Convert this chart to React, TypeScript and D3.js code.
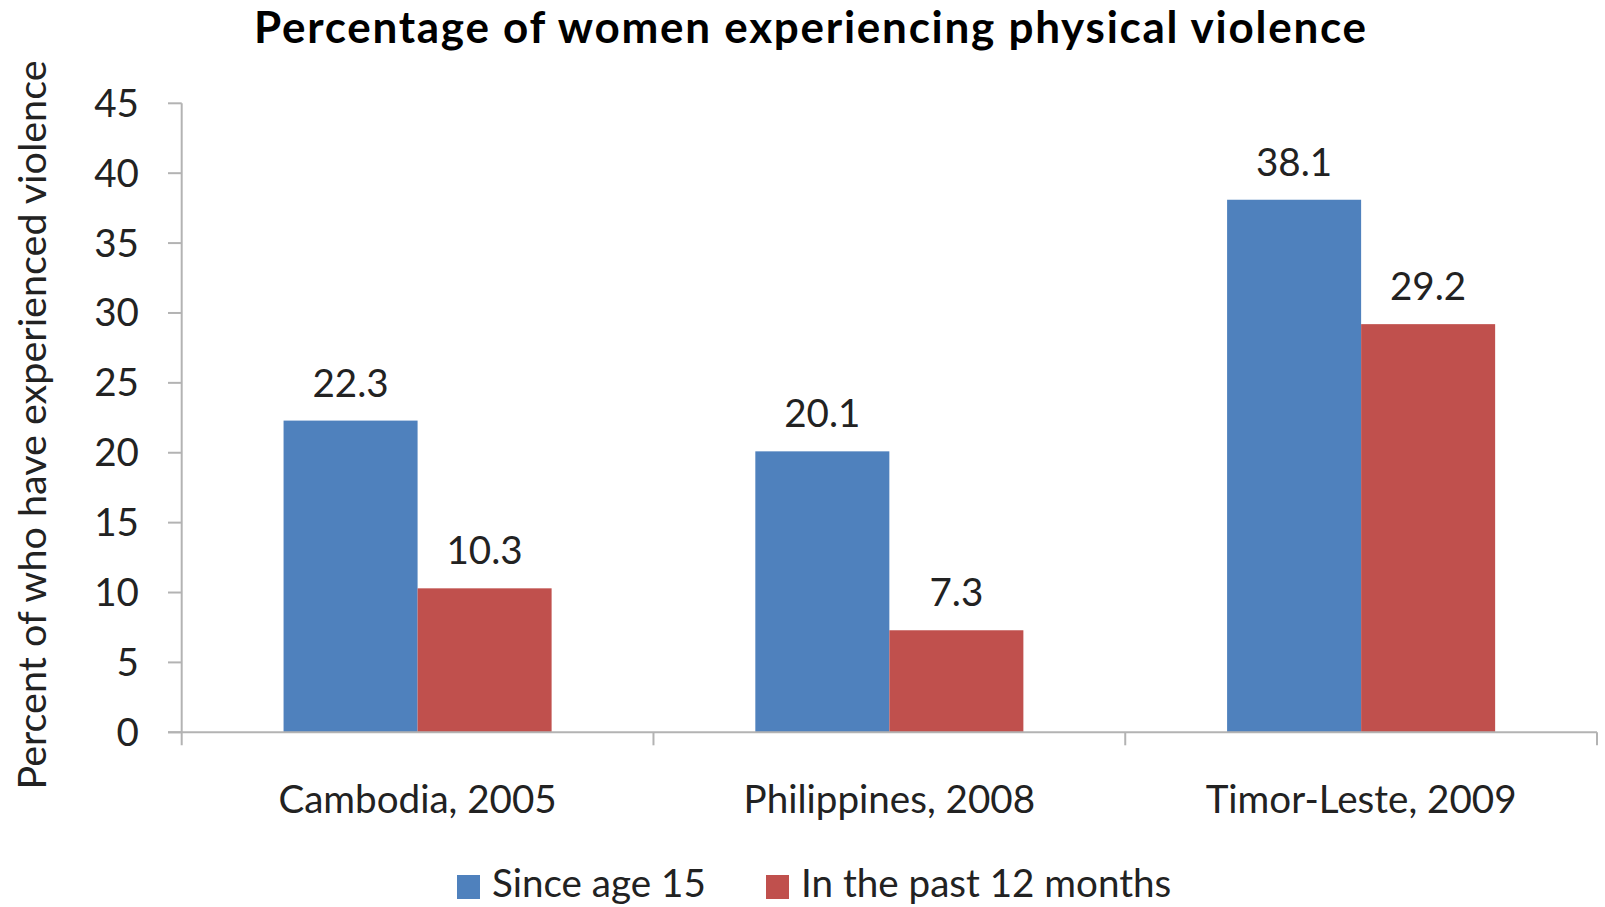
import React from 'react';
import * as d3 from 'd3';

const categories = ['Cambodia, 2005', 'Philippines, 2008', 'Timor-Leste, 2009'];
const seriesNames = ['Since age 15', 'In the past 12 months'];
const sinceAge15 = [22.3, 20.1, 38.1];
const pastTwelveMonths = [10.3, 7.3, 29.2];
const yTicks = [0, 5, 10, 15, 20, 25, 30, 35, 40, 45];
const colors = ['#4F81BD', '#C0504D'];

const FONT = 'Lato, "Open Sans", sans-serif';
const FS = 38.6;

const App = () => {
  const width = 1605;
  const height = 907;

  const x0 = d3.scaleBand().domain(categories).range([181.7, 1597]).padding(0);
  const x1 = d3.scaleBand().domain(seriesNames).range([0, x0.bandwidth()]).paddingInner(0).paddingOuter(0.76);
  const y = d3.scaleLinear().domain([0, 45]).range([732.3, 103.3]);

  const values = [sinceAge15, pastTwelveMonths];
  const axisColor = '#B3B3B3';
  const baseY = y(0);

  return (
    <svg width={width} height={height} style={{ position: 'absolute', left: 0, top: 0, background: '#fff' }}>
      {/* title */}
      <text
        x={810}
        y={43}
        textAnchor="middle"
        fontFamily={FONT}
        fontWeight="bold"
        fontSize={44}
        fill="#000"
        textLength={1112}
        lengthAdjust="spacing"
      >
        Percentage of women experiencing physical violence
      </text>

      {/* y axis title */}
      <text transform="translate(46,425) rotate(-90)" textAnchor="middle" fontFamily={FONT} fontSize={39.5} fill="#222">
        Percent of who have experienced violence
      </text>

      {/* bars */}
      {categories.map((c, i) => (
        <g key={c} transform={`translate(${x0(c)},0)`}>
          {seriesNames.map((s, j) => (
            <rect key={s} x={x1(s)} y={y(values[j][i])} width={x1.bandwidth()} height={baseY - y(values[j][i])} fill={colors[j]} />
          ))}
          {seriesNames.map((s, j) => (
            <text
              key={s + 'l'}
              x={(x1(s) as number) + x1.bandwidth() / 2}
              y={y(values[j][i]) - 24}
              textAnchor="middle"
              fontFamily={FONT}
              fontSize={FS}
              fill="#222"
            >
              {values[j][i].toFixed(1)}
            </text>
          ))}
        </g>
      ))}

      {/* y axis */}
      <line x1={181.7} x2={181.7} y1={y(45)} y2={baseY + 13} stroke={axisColor} strokeWidth={2} />
      {yTicks.map((t) => (
        <g key={t}>
          <line x1={168} x2={181.7} y1={y(t)} y2={y(t)} stroke={axisColor} strokeWidth={2} />
          <text x={139} y={y(t)} dy="0.35em" textAnchor="end" fontFamily={FONT} fontSize={FS} fill="#222">
            {t}
          </text>
        </g>
      ))}

      {/* x axis */}
      <line x1={168} x2={1597} y1={baseY} y2={baseY} stroke={axisColor} strokeWidth={2} />
      {categories.map((c) => (
        <line key={c + 't'} x1={(x0(c) as number) + x0.bandwidth()} x2={(x0(c) as number) + x0.bandwidth()} y1={baseY} y2={baseY + 13} stroke={axisColor} strokeWidth={2} />
      ))}
      {categories.map((c) => (
        <text key={c} x={(x0(c) as number) + x0.bandwidth() / 2} y={813} textAnchor="middle" fontFamily={FONT} fontSize={FS} fill="#222">
          {c}
        </text>
      ))}

      {/* legend */}
      {seriesNames.map((s, j) => {
        const lx = j === 0 ? 457 : 766;
        return (
          <g key={s} transform={`translate(${lx},875)`}>
            <rect x={0} y={0} width={23} height={24} fill={colors[j]} />
            <text x={35} y={22} fontFamily={FONT} fontSize={FS} fill="#222">
              {s}
            </text>
          </g>
        );
      })}
    </svg>
  );
};

export default App;
